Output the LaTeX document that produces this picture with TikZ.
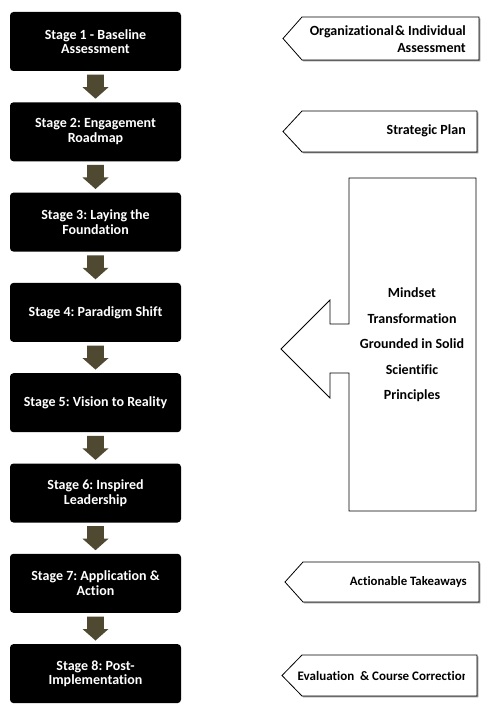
\documentclass[tikz,border=0pt]{standalone}
\usepackage{fontspec}
\setmainfont{Carlito}[Ligatures=NoCommon]
\frenchspacing
\usetikzlibrary{calc}
\definecolor{arrowcol}{RGB}{79,73,50}
\definecolor{shadowcol}{RGB}{150,150,150}
\tikzset{
  stagebox/.style={fill=black, rounded corners=3.5pt, minimum width=171pt, minimum height=59pt, inner sep=0pt,
    text=white, align=center, font=\fontsize{14}{14.6}\selectfont\bfseries},
  calltext/.style={anchor=east, align=right, inner sep=0pt, font=\fontsize{14}{17}\selectfont\bfseries},
  smalltext/.style={anchor=east, align=right, inner sep=0pt, font=\fontsize{12.8}{15}\selectfont\bfseries},
  bigtext/.style={align=center, inner sep=0pt, font=\fontsize{14}{25.5}\selectfont\bfseries},
  outline/.style={draw=black, line width=0.8pt, fill=white, line join=miter},
  shadowfill/.style={fill=shadowcol}
}
\newcommand{\callout}[5]{% tipx, notchx, right, top, bottom
  \fill[shadowfill] ({#1+1.3},{(#4+#5)/2+1.3}) -- ({#2+1.3},{#4+1.3}) -- ({#3+1.3},{#4+1.3}) -- ({#3+1.3},{#5+1.3}) -- ({#2+1.3},{#5+1.3}) -- cycle;
  \draw[outline] (#1,{(#4+#5)/2}) -- (#2,#4) -- (#3,#4) -- (#3,#5) -- (#2,#5) -- cycle;
}
\begin{document}
\begin{tikzpicture}[x=1pt,y=-1pt]
\useasboundingbox[fill=white] (0,0) rectangle (491,714);
% stages
\node[stagebox] (s1) at (95.5,41.5)  {Stage 1 - Baseline\\Assessment};
\node[stagebox] (s2) at (95.5,131.8) {Stage 2: Engagement\\Roadmap};
\node[stagebox] (s3) at (95.5,222.1) {Stage 3: Laying the\\Foundation};
\node[stagebox] (s4) at (95.5,312.4) {Stage 4: Paradigm Shift};
\node[stagebox] (s5) at (95.5,402.7) {Stage 5: Vision to Reality};
\node[stagebox] (s6) at (95.5,493.0) {Stage 6: Inspired\\Leadership};
\node[stagebox] (s7) at (95.5,583.3) {Stage 7: Application \&\\Action};
\node[stagebox] (s8) at (95.5,673.6) {Stage 8: Post-\\Implementation};
% block arrows
\foreach \i in {1,...,7}{
  \begin{scope}[shift={(s\i.south)}]
    \fill[arrowcol] (-8.3,3.5) -- (8.3,3.5) -- (8.3,16) -- (13,16) -- (0,27.5) -- (-13,16) -- (-8.3,16) -- cycle;
  \end{scope}
}
% callouts
\callout{283}{302}{479}{17}{60}
\node[calltext] (c1) at (466,39) {Organizational\kern1pt\& Individual\\Assessment};
\callout{283}{302}{477}{111}{152}
\node[calltext] (c2) at (466,131) {Strategic Plan};
\callout{285}{303}{479}{562}{602}
\node[smalltext] (c3) at (467,582.5) {Actionable Takeaways};
\callout{282}{302}{477}{655}{696}
\begin{scope}
  \clip (294,650) rectangle (464.5,700);
  \node[smalltext, anchor=west, font=\fontsize{13}{15}\selectfont\bfseries] (c4) at (297.5,676) {Evaluation \ \& Course Correction};
\end{scope}
% big arrow
\draw[outline] (349,178) -- (476,178) -- (476,511) -- (349,511) -- (349,373) -- (330,373) -- (330,398) -- (281,349) -- (330,300) -- (330,324) -- (349,324) -- cycle;
\node[bigtext] (big) at (412,345) {Mindset\\Transformation\\Grounded in Solid\\Scientific\\Principles};
\end{tikzpicture}
\end{document}
